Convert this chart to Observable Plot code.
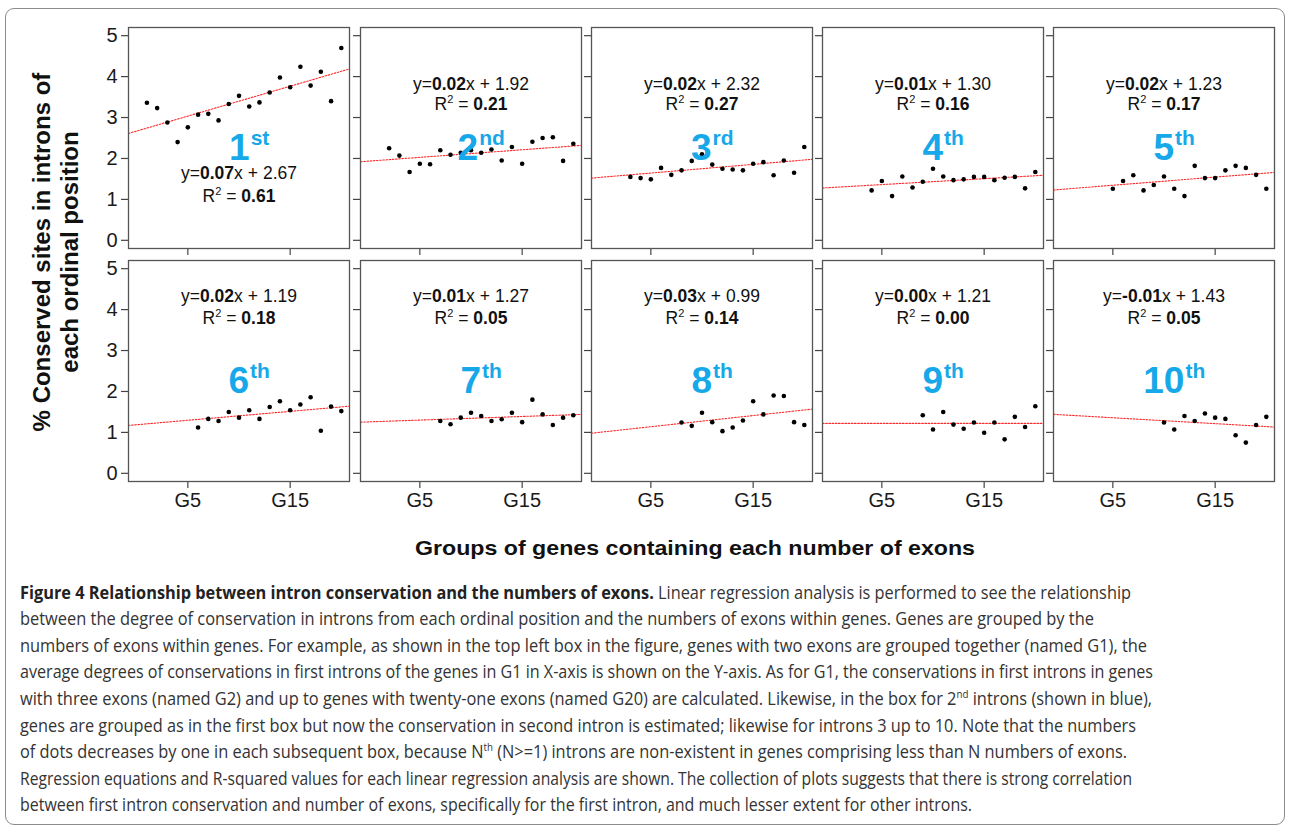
<!DOCTYPE html>
<html>
<head>
<meta charset="utf-8">
<script src="https://cdn.jsdelivr.net/npm/d3@7"></script>
<script src="https://cdn.jsdelivr.net/npm/@observablehq/plot@0.6"></script>
<style>
  html, body { margin: 0; padding: 0; background: #fff; }
  body { width: 1290px; height: 827px; overflow: hidden; font-family: "Liberation Sans", Arial, sans-serif; }
  #fig { position: relative; width: 1290px; height: 827px; }
  #border { position: absolute; left: 5px; top: 8px; width: 1280px; height: 817px; border: 1px solid #8c8c8c; border-radius: 9px; box-sizing: border-box; }
  .panel { position: absolute; }
  .panel svg { max-width: none !important; }
  #ytitle { position: absolute; left: 56px; top: 252px; width: 480px; transform: translate(-50%, -50%) rotate(-90deg);
            text-align: center; font-weight: bold; font-size: 24px; line-height: 28px; color: #111; white-space: nowrap; }
  #xtitle { position: absolute; left: 415px; top: 536px; font-weight: bold; font-size: 21px; color: #111; white-space: nowrap; transform-origin: 0 50%; }
  .cap { position: absolute; left: 20px; white-space: nowrap; font-family: "Open Sans", "Noto Sans", sans-serif; font-size: 18.5px; color: #333; transform-origin: 0 50%; line-height: 22px; }
  .cap b { color: #222; }
  .cap sup { font-size: 11px; vertical-align: 7px; line-height: 0; }
</style>
</head>
<body>
<div id="fig">
  <div id="border"></div>
  <div id="ytitle">% Conserved sites in introns of<br>each ordinal position</div>
  <div id="xtitle">Groups of genes containing each number of exons</div>
</div>
<script>
// ---------------- data ----------------
const groupNumbers = [1, 2, 3, 4, 5, 6, 7, 8, 9, 10, 11, 12, 13, 14, 15, 16, 17, 18, 19, 20];
const xTickValues = [5, 15];
const xTickLabels = ["G5", "G15"];
const yTickValues = [0, 1, 2, 3, 4, 5];
const ordinalLabels = ["1st", "2nd", "3rd", "4th", "5th", "6th", "7th", "8th", "9th", "10th"];

// mean % conserved sites; panel n starts at group Gn
const intron1  = [3.36, 3.23, 2.88, 2.40, 2.76, 3.07, 3.09, 2.93, 3.33, 3.53, 3.27, 3.37, 3.61, 3.98, 3.74, 4.24, 3.78, 4.12, 3.40, 4.70];
const intron2  = [2.25, 2.07, 1.67, 1.87, 1.86, 2.20, 2.09, 2.14, 2.20, 2.14, 2.22, 1.95, 2.28, 1.87, 2.41, 2.50, 2.52, 1.94, 2.36];
const intron3  = [1.55, 1.52, 1.49, 1.77, 1.60, 1.71, 1.94, 2.10, 1.85, 1.75, 1.73, 1.71, 1.87, 1.91, 1.59, 1.95, 1.65, 2.28];
const intron4  = [1.22, 1.45, 1.08, 1.56, 1.29, 1.43, 1.75, 1.56, 1.47, 1.49, 1.55, 1.55, 1.47, 1.53, 1.55, 1.27, 1.67];
const intron5  = [1.26, 1.45, 1.59, 1.22, 1.35, 1.56, 1.26, 1.08, 1.82, 1.52, 1.52, 1.71, 1.82, 1.77, 1.60, 1.26];
const intron6  = [1.12, 1.33, 1.28, 1.50, 1.36, 1.54, 1.33, 1.62, 1.76, 1.54, 1.68, 1.86, 1.04, 1.63, 1.52];
const intron7  = [1.28, 1.20, 1.36, 1.48, 1.40, 1.28, 1.32, 1.48, 1.25, 1.80, 1.44, 1.18, 1.36, 1.42];
const intron8  = [1.24, 1.16, 1.48, 1.25, 1.03, 1.12, 1.29, 1.76, 1.44, 1.90, 1.89, 1.25, 1.18];
const intron9  = [1.42, 1.07, 1.50, 1.19, 1.09, 1.24, 0.99, 1.24, 0.83, 1.38, 1.13, 1.64];
const intron10 = [1.24, 1.07, 1.40, 1.28, 1.46, 1.36, 1.33, 0.93, 0.75, 1.18, 1.38];
const seriesValues = [intron1, intron2, intron3, intron4, intron5, intron6, intron7, intron8, intron9, intron10];

// fitted lines as drawn
const lineSlope     = [0.073, 0.0185, 0.0213, 0.0144, 0.0199, 0.0218, 0.0088, 0.0273, 0.0, -0.0144];
const lineIntercept = [2.67, 1.935, 1.537, 1.29, 1.246, 1.187, 1.257, 1.002, 1.22, 1.43];

// printed equations
const eqSlopeText     = ["0.07", "0.02", "0.02", "0.01", "0.02", "0.02", "0.01", "0.03", "0.00", "-0.01"];
const eqInterceptText = ["2.67", "1.92", "2.32", "1.30", "1.23", "1.19", "1.27", "0.99", "1.21", "1.43"];
const r2Text          = ["0.61", "0.21", "0.27", "0.16", "0.17", "0.18", "0.05", "0.14", "0.00", "0.05"];

const captionLines = [
  '<b>Figure 4 Relationship between intron conservation and the numbers of exons.</b> Linear regression analysis is performed to see the relationship',
  'between the degree of conservation in introns from each ordinal position and the numbers of exons within genes. Genes are grouped by the',
  'numbers of exons within genes. For example, as shown in the top left box in the figure, genes with two exons are grouped together (named G1), the',
  'average degrees of conservations in first introns of the genes in G1 in X-axis is shown on the Y-axis. As for G1, the conservations in first introns in genes',
  'with three exons (named G2) and up to genes with twenty-one exons (named G20) are calculated. Likewise, in the box for 2<sup>nd</sup> introns (shown in blue),',
  'genes are grouped as in the first box but now the conservation in second intron is estimated; likewise for introns 3 up to 10. Note that the numbers',
  'of dots decreases by one in each subsequent box, because N<sup>th</sup> (N&gt;=1) introns are non-existent in genes comprising less than N numbers of exons.',
  'Regression equations and R-squared values for each linear regression analysis are shown. The collection of plots suggests that there is strong correlation',
  'between first intron conservation and number of exons, specifically for the first intron, and much lesser extent for other introns.'
];

// ---------------- layout ----------------
const xDomain = [-0.8, 20.8];
const yDomain = [-0.2, 5.2];
const frameSize = 221;
const frameLeft0 = 128.3, colStep = 231.25;
const frameTops = [27, 259.5];
const M = {left: 40, right: 4, top: 4, bottom: 40};
const eqY = [[1.63, 3.82, 3.82, 3.82, 3.82], [4.33, 4.33, 4.33, 4.33, 4.33]];
const r2Y = [[1.08, 3.32, 3.32, 3.32, 3.32], [3.78, 3.78, 3.78, 3.78, 3.78]];
const eqX = 10, ordX = 11, ordY = 2.24;
const blue = "#16a8e8";
const tickFontY = "20px", tickFontX = "20px";
const captionRight = [1131, 1094, 1147, 1153, 1152, 1136, 1127, 1132, 972];
const captionTop0 = 591.5, captionStep = 26.6;

const fig = document.getElementById("fig");

for (let i = 0; i < 10; i++) {
  const row = Math.floor(i / 5), col = i % 5;
  const first = i; // index into groupNumbers
  const pts = seriesValues[i].map((v, j) => ({g: groupNumbers[first + j], v}));
  const fit = xDomain.map(x => ({x, y: lineIntercept[i] + lineSlope[i] * x}));
  const plot = Plot.plot({
    width: frameSize + M.left + M.right,
    height: frameSize + M.top + M.bottom,
    marginLeft: M.left, marginRight: M.right, marginTop: M.top, marginBottom: M.bottom,
    style: {background: "transparent", overflow: "visible", fontFamily: "'Liberation Sans', Arial, sans-serif", color: "#1a1a1a"},
    x: {domain: xDomain},
    y: {domain: yDomain},
    marks: [
      Plot.axisY(yTickValues, {tickSize: 7, tickPadding: 4, stroke: "#444", strokeWidth: 1.2,
        tickFormat: col === 0 ? (d => String(d)) : (() => ""), label: null}),
      Plot.axisX(xTickValues, {tickSize: 7, tickPadding: 4, stroke: "#444", strokeWidth: 1.2,
        tickFormat: row === 1 ? (d => xTickLabels[xTickValues.indexOf(d)]) : (() => ""), label: null}),
      Plot.line(fit, {x: "x", y: "y", stroke: "#ff2a2a", strokeWidth: 1.1, strokeDasharray: "1.6,1.6"}),
      Plot.dot(pts, {x: "g", y: "v", r: 2.3, fill: "#000", stroke: null}),
      Plot.text([{x: eqX, y: eqY[row][col], t: `y=${eqSlopeText[i]}x + ${eqInterceptText[i]}`}],
        {x: "x", y: "y", text: "t", fontSize: 17.5, fill: "#111"}),
      Plot.text([{x: eqX, y: r2Y[row][col], t: `R2 = ${r2Text[i]}`}],
        {x: "x", y: "y", text: "t", fontSize: 17.5, fill: "#111"}),
      Plot.text([{x: ordX, y: ordY, t: ordinalLabels[i]}],
        {x: "x", y: "y", text: "t", fontSize: 37, fontWeight: "bold", fill: blue}),
      Plot.frame({stroke: "#555", strokeWidth: 1.3})
    ]
  });
  // tick label font size: set directly on every axis label text
  plot.querySelectorAll("g[aria-label]").forEach(g => {
    const lab = g.getAttribute("aria-label");
    if (/tick label/.test(lab)) {
      const fs = /^y/.test(lab) ? tickFontY : tickFontX;
      g.setAttribute("font-size", fs);
      g.querySelectorAll("text").forEach(t => { t.style.fontSize = fs; t.setAttribute("fill", "#1a1a1a"); });
    }
  });
  // rich text: bold coefficients, superscripts
  const tg = plot.querySelectorAll('g[aria-label="text"]');
  const eqEl = d3.select(tg[0]).select("text");
  eqEl.text(null);
  eqEl.append("tspan").text("y=");
  eqEl.append("tspan").attr("font-weight", "bold").text(eqSlopeText[i]);
  eqEl.append("tspan").text("x");
  eqEl.append("tspan").attr("dx", 5).text("+ " + eqInterceptText[i]);
  const r2El = d3.select(tg[1]).select("text");
  r2El.text(null);
  r2El.append("tspan").text("R");
  r2El.append("tspan").attr("font-size", 11).attr("dy", -7).text("2");
  r2El.append("tspan").attr("dy", 7).text(" = ");
  r2El.append("tspan").attr("font-weight", "bold").text(r2Text[i]);
  const ordEl = d3.select(tg[2]).select("text");
  const m = ordinalLabels[i].match(/^(\d+)(\D+)$/);
  ordEl.text(null);
  ordEl.append("tspan").text(m[1]);
  ordEl.append("tspan").attr("font-size", 21).attr("dy", -15).attr("dx", 1).text(m[2]);

  const wrap = document.createElement("div");
  wrap.className = "panel";
  wrap.style.left = (frameLeft0 + col * colStep - M.left) + "px";
  wrap.style.top = (frameTops[row] - M.top) + "px";
  wrap.appendChild(plot);
  fig.appendChild(wrap);
}

// caption
captionLines.forEach((html, k) => {
  const d = document.createElement("div");
  d.className = "cap";
  d.innerHTML = html;
  d.style.top = (captionTop0 + k * captionStep - 11) + "px";
  fig.appendChild(d);
  const w = d.getBoundingClientRect().width;
  d.style.transform = `scaleX(${(captionRight[k] - 20) / w})`;
});

// fit x title width
const xt = document.getElementById("xtitle");
const xw = xt.getBoundingClientRect().width;
xt.style.transform = `scaleX(${560 / xw})`;
</script>
</body>
</html>
